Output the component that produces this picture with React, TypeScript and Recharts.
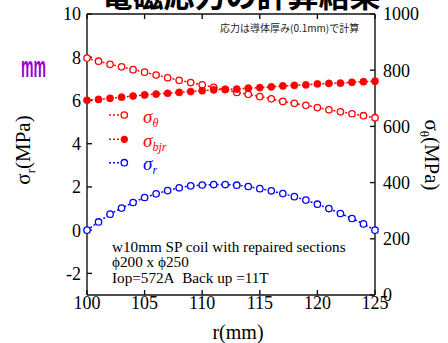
import React from 'react';
import { LineChart, Line, XAxis, YAxis } from 'recharts';

const radius = [100, 101, 102, 103, 104, 105, 106, 107, 108, 109, 110, 111, 112, 113, 114, 115, 116, 117, 118, 119, 120, 121, 122, 123, 124, 125];
const sigmaR = [0, 0.38, 0.74, 1.02, 1.28, 1.51, 1.68, 1.83, 1.96, 2.05, 2.09, 2.11, 2.11, 2.08, 2.02, 1.92, 1.82, 1.69, 1.55, 1.39, 1.2, 1.0, 0.77, 0.54, 0.29, 0];
const sigmaTheta = [843, 832, 821, 812, 802, 793, 783, 773, 764, 756, 748, 739, 731, 721, 714, 706, 698, 689, 682, 675, 667, 659, 652, 645, 638, 631];
const sigmaBjr = [693, 696, 700, 704, 708, 712, 715, 718, 721, 724, 727, 730, 732, 733, 736, 738, 741, 744, 746, 748, 751, 753, 754, 757, 759, 761];

const xTicks = [100, 105, 110, 115, 120, 125];
const leftTicks = [-2, 0, 2, 4, 6, 8, 10];
const rightTicks = [0, 200, 400, 600, 800, 1000];

const data = radius.map((r, i) => ({ r, sr: sigmaR[i], st: sigmaTheta[i], sb: sigmaBjr[i] }));

const RED = '#ff0000';
const BLUE = '#0000ff';
const tickFont = { fontFamily: 'Liberation Serif', fontSize: 18, fill: '#000' };
const axisStroke = { stroke: '#111', strokeWidth: 1.4 };

export default function App() {
  return (
    <div style={{ position: 'absolute', left: 0, top: 0, width: 448, height: 343, background: '#fff' }}>
      <LineChart width={448} height={343} data={data} margin={{ top: 13, right: 0, bottom: 0, left: 0 }}>
        <XAxis xAxisId="bottom" dataKey="r" type="number" domain={[100, 125]} ticks={xTicks}
          orientation="bottom" height={48} tickSize={-5} tickMargin={6} tick={tickFont}
          axisLine={axisStroke} tickLine={axisStroke} interval={0} />
        <XAxis xAxisId="top" dataKey="r" type="number" domain={[100, 125]} ticks={xTicks}
          orientation="top" height={1} tickSize={-5} tickFormatter={() => ''}
          axisLine={axisStroke} tickLine={axisStroke} interval={0} />
        <YAxis yAxisId="left" orientation="left" domain={[-3, 10]} ticks={leftTicks} width={87}
          tickSize={-5} tickMargin={11} tick={tickFont} axisLine={axisStroke} tickLine={axisStroke} interval={0} />
        <YAxis yAxisId="right" orientation="right" domain={[0, 1000]} ticks={rightTicks} width={73}
          tickSize={-5} tickMargin={13} tick={tickFont} axisLine={axisStroke} tickLine={axisStroke} interval={0} />
        <Line xAxisId="bottom" yAxisId="right" dataKey="st" stroke={RED} strokeWidth={1.5} strokeDasharray="2 2"
          dot={{ r: 3.2, fill: '#fff', stroke: RED, strokeWidth: 1.3, strokeDasharray: '' }} isAnimationActive={false} />
        <Line xAxisId="bottom" yAxisId="right" dataKey="sb" stroke={RED} strokeWidth={1.5} strokeDasharray="2 2"
          dot={{ r: 3.6, fill: RED, stroke: RED, strokeWidth: 0.5, strokeDasharray: '' }} isAnimationActive={false} />
        <Line xAxisId="bottom" yAxisId="left" dataKey="sr" stroke={BLUE} strokeWidth={1.5} strokeDasharray="2 2"
          dot={{ r: 3.2, fill: '#fff', stroke: BLUE, strokeWidth: 1.3, strokeDasharray: '' }} isAnimationActive={false} />
      </LineChart>
      <svg width={448} height={343} style={{ position: 'absolute', left: 0, top: 0, pointerEvents: 'none' }}>
        <text x={241} y={7} textAnchor="middle" fontFamily="Noto Sans CJK JP" fontWeight="bold" fontSize={31} fill="#000">電磁応力の計算結果</text>
        <text x={220} y={32} fontFamily="Noto Sans CJK JP" fontSize={10} fill="#222">応力は導体厚み(0.1mm)で計算</text>
        <text x={21} y={77} fontFamily="Liberation Sans" fontWeight="bold" fontSize={30} fill="#9900cc" textLength={25} lengthAdjust="spacingAndGlyphs">mm</text>
        <text x={30} y={150} textAnchor="middle" fontFamily="Liberation Serif" fontSize={21} fill="#000" transform="rotate(-90 30 150)">σ<tspan fontSize={13} dy={5}>r</tspan><tspan dy={-5}>(MPa)</tspan></text>
        <text x={425} y={155} textAnchor="middle" fontFamily="Liberation Serif" fontSize={21} fill="#000" transform="rotate(90 425 155)">σ<tspan fontSize={13} dy={5}>θ</tspan><tspan dy={-5}>(MPa)</tspan></text>
        <text x={238} y={339} textAnchor="middle" fontFamily="Liberation Serif" fontSize={20} fill="#000">r(mm)</text>
        <g fontFamily="Liberation Serif" fontSize={15.2} fill="#000">
          <text x={112} y={252}>w10mm SP coil with repaired sections</text>
          <text x={112} y={267}>ϕ200 x ϕ250</text>
          <text x={112} y={283}>{'Iop=572A\u00a0\u00a0Back up =11T'}</text>
        </g>
        <g>
          <line x1={109} x2={124} y1={115} y2={115} stroke={RED} strokeWidth={1.5} strokeDasharray="2 2" />
          <circle cx={124.3} cy={115} r={3.2} fill="#fff" stroke={RED} strokeWidth={1.3} />
          <text x={143} y={123} fontFamily="Liberation Serif" fontStyle="italic" fontSize={19} fill={RED}>σ<tspan fontSize={12} dy={4}>θ</tspan></text>
          <line x1={109} x2={124} y1={139.3} y2={139.3} stroke={RED} strokeWidth={1.5} strokeDasharray="2 2" />
          <circle cx={124.3} cy={139.3} r={3.6} fill={RED} />
          <text x={143} y={147} fontFamily="Liberation Serif" fontStyle="italic" fontSize={19} fill={RED}>σ<tspan fontSize={12} dy={4}>bjr</tspan></text>
          <line x1={109} x2={124} y1={162.7} y2={162.7} stroke={BLUE} strokeWidth={1.5} strokeDasharray="2 2" />
          <circle cx={124.3} cy={162.7} r={3.2} fill="#fff" stroke={BLUE} strokeWidth={1.3} />
          <text x={143} y={170} fontFamily="Liberation Serif" fontStyle="italic" fontSize={19} fill={BLUE}>σ<tspan fontSize={12} dy={4}>r</tspan></text>
        </g>
      </svg>
    </div>
  );
}
